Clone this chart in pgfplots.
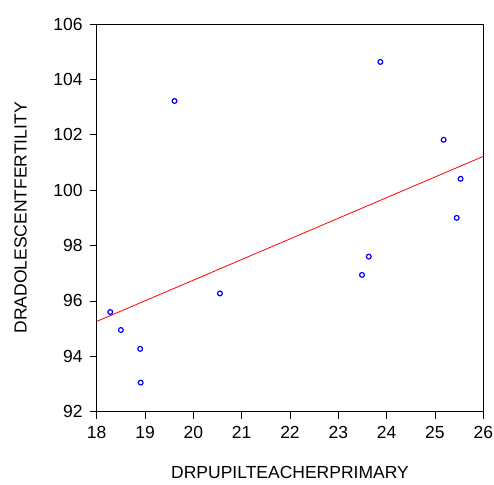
\documentclass[border=0pt]{standalone}
\usepackage{pgfplots}
\pgfplotsset{compat=1.18}
\usepackage{fontspec}
\setmainfont{Liberation Sans}
\begin{document}
\fontsize{17.5}{20}\selectfont
\begin{tikzpicture}
\begin{axis}[
  name=ax,
  scale only axis,
  width=386.6pt, height=387.7pt,
  xmin=18, xmax=26, ymin=92, ymax=106,
  xtick={18,19,...,26},
  ytick={92,94,...,106},
  tick align=outside,
  xtick pos=bottom, ytick pos=left,
  major tick length=7pt,
  tick style={black, line width=0.8pt},
  axis line style={black, line width=0.8pt},
  /pgf/number format/assume math mode=true,
  ticklabel style={font=\fontsize{17.5}{20}\selectfont},
  xticklabel style={yshift=-2pt},
  yticklabel style={xshift=-1pt},
  label style={font=\fontsize{18.2}{21}\selectfont},
  xlabel={DRPUPILTEACHERPRIMARY},
  ylabel={DRADOLESCENTFERTILITY},
  every axis x label/.style={at={(axis description cs:0.5,-0.158)}, anchor=center},
  every axis y label/.style={at={(axis description cs:-0.1966,0.5)}, rotate=90, anchor=center},
  clip=false,
]
\addplot[only marks, mark=o, mark size=2.4pt, blue, mark options={line width=1.2pt}] coordinates {
(18.28,95.60) (18.50,94.95) (18.90,94.27) (18.91,93.05) (20.55,96.27)
(19.61,103.22) (23.87,104.63) (25.18,101.82) (25.53,100.41) (25.45,99.00)
(23.63,97.60) (23.49,96.94)
};
\addplot[red, line width=0.8pt] coordinates {(18,95.26) (26,101.22)};
\end{axis}
\pgfresetboundingbox
\path[use as bounding box] ([xshift=-96.7pt,yshift=-72.3pt]ax.south west) rectangle ([xshift=10.7pt,yshift=24pt]ax.north east);
\end{tikzpicture}
\end{document}
